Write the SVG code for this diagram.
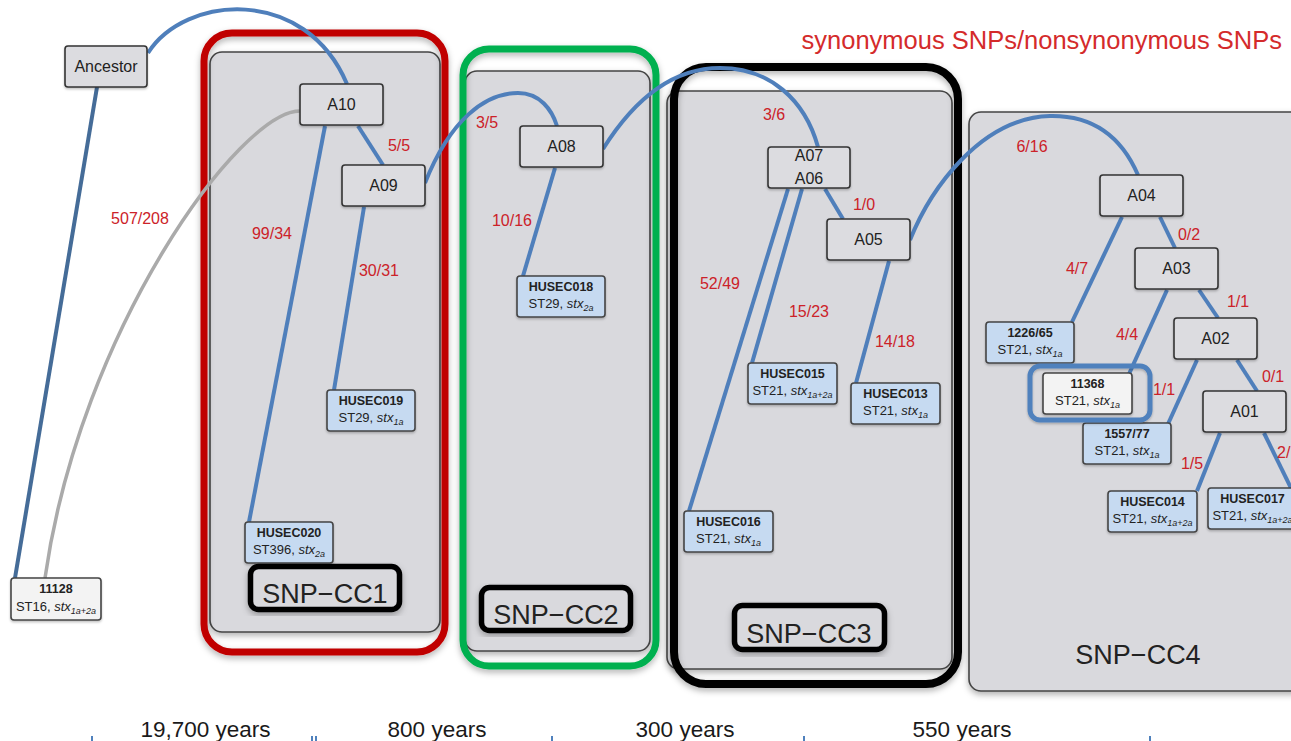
<svg xmlns="http://www.w3.org/2000/svg" width="1291" height="741" viewBox="0 0 1291 741">
<defs>
<filter id="sh" x="-10%" y="-10%" width="120%" height="125%"><feDropShadow dx="0" dy="3" stdDeviation="3" flood-color="#000" flood-opacity="0.3"/></filter>
<filter id="sh2" x="-10%" y="-10%" width="120%" height="130%"><feDropShadow dx="0" dy="1.5" stdDeviation="1.2" flood-color="#000" flood-opacity="0.25"/></filter>
</defs>
<style>
text{font-family:"Liberation Sans",Arial,sans-serif;}
.panel{fill:#d9d9dd;stroke:#444;stroke-width:1.6;filter:url(#sh);}
.outline{fill:none;filter:url(#sh);}
.cc{fill:#d9d9dd;stroke:#000;stroke-width:5.5;filter:url(#sh);}
.cct{font-size:27px;fill:#222;text-anchor:middle;}
.node rect{fill:#dcdce0;stroke:#333;stroke-width:1.6;filter:url(#sh2);}
.leaf rect{fill:#c6daf1;stroke:#444;stroke-width:1.6;filter:url(#sh2);}
.white rect{fill:#f3f3f3;}
.nt{font-size:16px;fill:#222;text-anchor:middle;}
.id{font-size:12.5px;font-weight:bold;fill:#222;text-anchor:middle;}
.st{font-size:13px;fill:#222;text-anchor:middle;}
.it{font-style:italic;}
.sub{font-style:italic;font-size:9px;}
.lab{font-size:16px;fill:#cc2229;text-anchor:middle;}
.con{fill:none;stroke:#4f7fbb;stroke-width:4;}
.yr{font-size:22.5px;fill:#1a1a1a;text-anchor:middle;}
.tick{stroke:#4f81bd;stroke-width:2;}
</style>
<rect width="1291" height="741" fill="#fff"/>

<g id="panels">
<rect id="panel-cc4" class="panel" x="969" y="112" width="360" height="579" rx="12"/>
<rect id="panel-cc3" class="panel" x="667" y="91" width="285" height="578" rx="12"/>
<rect id="panel-cc2" class="panel" x="465" y="71" width="185" height="580" rx="12"/>
<rect id="panel-cc1" class="panel" x="210" y="52" width="230" height="580" rx="12"/>
</g>

<g id="outlines">
<rect class="outline" x="204" y="33" width="241" height="619" rx="28" stroke="#c00000" stroke-width="7"/>
<rect class="outline" x="463" y="49" width="193" height="617" rx="26" stroke="#00b050" stroke-width="7"/>
<rect class="outline" x="674" y="67" width="284" height="617" rx="32" stroke="#000" stroke-width="8"/>
</g>

<g id="connectors">
<path d="M97,87 L15,578" fill="none" stroke="#456c98" stroke-width="4"/>
<path d="M300,111 C240,111 80,330 45,578" fill="none" stroke="#aaaaaa" stroke-width="3.5"/>
<path class="con" d="M148,53 C185,-5 305,-15 347,84"/>
<path class="con" d="M358,126 L383,165"/>
<path class="con" d="M325,126 L249,522"/>
<path class="con" d="M364,207 L334,390"/>
<path class="con" d="M425,183 C450,120 485,93 518,93 C540,93 552,110 557,126"/>
<path class="con" d="M555,168 L523,276"/>
<path class="con" d="M603,149 C640,90 680,68 720,68 C770,68 805,100 818,147"/>
<path class="con" d="M788,189 L689,511"/>
<path class="con" d="M802,189 L752,363"/>
<path class="con" d="M825,189 L843,219"/>
<path class="con" d="M889,261 L856,383"/>
<path class="con" d="M910,240 C930,190 980,118 1050,116 C1100,115 1125,145 1138,175"/>
<path class="con" d="M1122,217 L1072,322"/>
<path class="con" d="M1160,217 L1175,248"/>
<path class="con" d="M1167,290 L1129,374"/>
<path class="con" d="M1199,290 L1218,318"/>
<path class="con" d="M1197,360 L1168,424"/>
<path class="con" d="M1237,360 L1257,391"/>
<path class="con" d="M1220,433 L1197,491"/>
<path class="con" d="M1264,433 L1292,490"/>
</g>

<g id="edge-labels">
<text class="lab" x="140" y="224">507/208</text>
<text class="lab" x="272" y="239">99/34</text>
<text class="lab" x="399" y="151">5/5</text>
<text class="lab" x="379" y="276">30/31</text>
<text class="lab" x="487" y="128">3/5</text>
<text class="lab" x="512" y="226">10/16</text>
<text class="lab" x="774" y="120">3/6</text>
<text class="lab" x="720" y="289">52/49</text>
<text class="lab" x="809" y="317">15/23</text>
<text class="lab" x="864" y="210">1/0</text>
<text class="lab" x="895" y="347">14/18</text>
<text class="lab" x="1032" y="152">6/16</text>
<text class="lab" x="1077" y="274">4/7</text>
<text class="lab" x="1189" y="240">0/2</text>
<text class="lab" x="1127" y="340">4/4</text>
<text class="lab" x="1238" y="307">1/1</text>
<text class="lab" x="1164" y="395">1/1</text>
<text class="lab" x="1273" y="382">0/1</text>
<text class="lab" x="1192" y="469">1/5</text>
<text class="lab" x="1277" y="458" style="text-anchor:start">2/</text>
</g>

<g id="ancestor" class="node"><rect x="65" y="46" width="82" height="41" rx="3"/><text class="nt" x="106" y="72">Ancestor</text></g>
<g id="a10" class="node"><rect x="300" y="84" width="83" height="41" rx="3"/><text class="nt" x="341.5" y="110">A10</text></g>
<g id="a09" class="node"><rect x="342" y="165" width="83" height="41" rx="3"/><text class="nt" x="383.5" y="191">A09</text></g>
<g id="a08" class="node"><rect x="520" y="126" width="83" height="41" rx="3"/><text class="nt" x="561.5" y="152">A08</text></g>
<g id="a07a06" class="node"><rect x="768" y="147" width="82" height="41" rx="3"/><text class="nt" x="809" y="161">A07</text><text class="nt" x="809" y="184">A06</text></g>
<g id="a05" class="node"><rect x="827" y="219" width="83" height="41" rx="3"/><text class="nt" x="868.5" y="245">A05</text></g>
<g id="a04" class="node"><rect x="1100" y="175" width="83" height="41" rx="3"/><text class="nt" x="1141.5" y="201">A04</text></g>
<g id="a03" class="node"><rect x="1135" y="248" width="83" height="41" rx="3"/><text class="nt" x="1176.5" y="274">A03</text></g>
<g id="a02" class="node"><rect x="1174" y="318" width="83" height="41" rx="3"/><text class="nt" x="1215.5" y="344">A02</text></g>
<g id="a01" class="node"><rect x="1203" y="391" width="83" height="41" rx="3"/><text class="nt" x="1244.5" y="417">A01</text></g>

<g id="n11128" class="leaf white"><rect x="11" y="578" width="90" height="42" rx="3"/><text class="id" x="56" y="593">11128</text><text class="st" x="56" y="611">ST16, <tspan class="it">stx</tspan><tspan class="sub" dy="3">1a+2a</tspan></text></g>
<g id="husec020" class="leaf"><rect x="245" y="522" width="88" height="41" rx="3"/><text class="id" x="289" y="537">HUSEC020</text><text class="st" x="289" y="554">ST396, <tspan class="it">stx</tspan><tspan class="sub" dy="3">2a</tspan></text></g>
<g id="husec019" class="leaf"><rect x="327" y="390" width="88" height="41" rx="3"/><text class="id" x="371" y="405">HUSEC019</text><text class="st" x="371" y="422">ST29, <tspan class="it">stx</tspan><tspan class="sub" dy="3">1a</tspan></text></g>
<g id="husec018" class="leaf"><rect x="517" y="276" width="88" height="41" rx="3"/><text class="id" x="561" y="291">HUSEC018</text><text class="st" x="561" y="308">ST29, <tspan class="it">stx</tspan><tspan class="sub" dy="3">2a</tspan></text></g>
<g id="husec015" class="leaf"><rect x="748" y="363" width="89" height="41" rx="3"/><text class="id" x="792.5" y="378">HUSEC015</text><text class="st" x="792.5" y="395">ST21, <tspan class="it">stx</tspan><tspan class="sub" dy="3">1a+2a</tspan></text></g>
<g id="husec013" class="leaf"><rect x="851" y="383" width="89" height="41" rx="3"/><text class="id" x="895.5" y="398">HUSEC013</text><text class="st" x="895.5" y="415">ST21, <tspan class="it">stx</tspan><tspan class="sub" dy="3">1a</tspan></text></g>
<g id="husec016" class="leaf"><rect x="684" y="511" width="89" height="41" rx="3"/><text class="id" x="728.5" y="526">HUSEC016</text><text class="st" x="728.5" y="543">ST21, <tspan class="it">stx</tspan><tspan class="sub" dy="3">1a</tspan></text></g>
<g id="n1226-65" class="leaf"><rect x="986" y="322" width="88" height="41" rx="3"/><text class="id" x="1030" y="337">1226/65</text><text class="st" x="1030" y="354">ST21, <tspan class="it">stx</tspan><tspan class="sub" dy="3">1a</tspan></text></g>
<g id="n1557-77" class="leaf"><rect x="1083" y="423" width="88" height="41" rx="3"/><text class="id" x="1127" y="438">1557/77</text><text class="st" x="1127" y="455">ST21, <tspan class="it">stx</tspan><tspan class="sub" dy="3">1a</tspan></text></g>
<g id="n11368" class="leaf white"><rect x="1043" y="373" width="89" height="41" rx="3"/><text class="id" x="1087.5" y="388">11368</text><text class="st" x="1087.5" y="405">ST21, <tspan class="it">stx</tspan><tspan class="sub" dy="3">1a</tspan></text><rect x="1030" y="366" width="120" height="54" rx="10" style="fill:none;stroke:#4f81bd;stroke-width:5"/></g>
<g id="husec014" class="leaf"><rect x="1108" y="491" width="89" height="41" rx="3"/><text class="id" x="1152.5" y="506">HUSEC014</text><text class="st" x="1152.5" y="523">ST21, <tspan class="it">stx</tspan><tspan class="sub" dy="3">1a+2a</tspan></text></g>
<g id="husec017" class="leaf"><rect x="1208" y="488" width="89" height="41" rx="3"/><text class="id" x="1252.5" y="503">HUSEC017</text><text class="st" x="1252.5" y="520">ST21, <tspan class="it">stx</tspan><tspan class="sub" dy="3">1a+2a</tspan></text></g>

<g id="cc-labels">
<g id="snp-cc1"><rect class="cc" x="250.5" y="566.5" width="149" height="43" rx="8"/><text class="cct" x="325" y="603">SNP−CC1</text></g>
<g id="snp-cc2"><rect class="cc" x="481.5" y="587.5" width="149" height="43" rx="8"/><text class="cct" x="556" y="624">SNP−CC2</text></g>
<g id="snp-cc3"><rect class="cc" x="734.5" y="605.5" width="150" height="44" rx="8"/><text class="cct" x="809" y="643">SNP−CC3</text></g>
<g id="snp-cc4"><text class="cct" x="1138" y="664">SNP−CC4</text></g>
</g>

<text x="1282" y="49" font-size="25.5" fill="#d42b2b" text-anchor="end">synonymous SNPs/nonsynonymous SNPs</text>

<g id="timeline">
<text class="yr" x="205.5" y="737">19,700 years</text>
<text class="yr" x="437" y="737">800 years</text>
<text class="yr" x="685" y="737">300 years</text>
<text class="yr" x="962" y="737">550 years</text>
<line class="tick" x1="92" y1="736" x2="92" y2="741"/>
<line class="tick" x1="312" y1="736" x2="312" y2="741"/>
<line class="tick" x1="316" y1="736" x2="316" y2="741"/>
<line class="tick" x1="552" y1="736" x2="552" y2="741"/>
<line class="tick" x1="804" y1="736" x2="804" y2="741"/>
<line class="tick" x1="1150" y1="736" x2="1150" y2="741"/>
</g>
</svg>
